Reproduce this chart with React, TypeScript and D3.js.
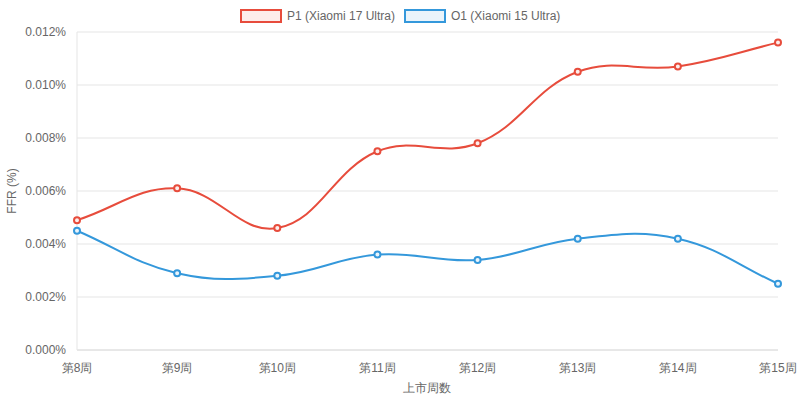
import React from "react";
import * as d3 from "d3";

const categories = ["第8周", "第9周", "第10周", "第11周", "第12周", "第13周", "第14周", "第15周"];
const p1Values = [0.0049, 0.0061, 0.0046, 0.0075, 0.0078, 0.0105, 0.0107, 0.0116];
const o1Values = [0.0045, 0.0029, 0.0028, 0.0036, 0.0034, 0.0042, 0.0042, 0.0025];
const yTicks = [0, 0.002, 0.004, 0.006, 0.008, 0.01, 0.012];
const seriesNames = ["P1 (Xiaomi 17 Ultra)", "O1 (Xiaomi 15 Ultra)"];
const seriesColors = ["#e74c3c", "#3498db"];
const seriesFills = ["rgba(231,76,60,0.1)", "rgba(52,152,219,0.1)"];
const pointFills = ["#fdeeec", "#eaf4fb"];

const W = 800, H = 401;
const left = 77, right = 778, top = 32, bottom = 350;
const FONT = "'Liberation Sans', Arial, Helvetica, sans-serif";

function splinePath(pts: [number, number][], t = 0.4): string {
  const p = d3.path();
  const ctrl = pts.map((cur, i) => {
    const prev = pts[i - 1] || cur;
    const next = pts[i + 1] || cur;
    const d01 = Math.hypot(cur[0] - prev[0], cur[1] - prev[1]);
    const d12 = Math.hypot(next[0] - cur[0], next[1] - cur[1]);
    let s01 = d01 / (d01 + d12);
    let s12 = d12 / (d01 + d12);
    s01 = isNaN(s01) ? 0 : s01;
    s12 = isNaN(s12) ? 0 : s12;
    const fa = t * s01, fb = t * s12;
    return {
      prev: [cur[0] - fa * (next[0] - prev[0]), cur[1] - fa * (next[1] - prev[1])],
      next: [cur[0] + fb * (next[0] - prev[0]), cur[1] + fb * (next[1] - prev[1])],
    };
  });
  pts.forEach((pt, i) => {
    if (i === 0) p.moveTo(pt[0], pt[1]);
    else {
      const a = ctrl[i - 1].next, b = ctrl[i].prev;
      p.bezierCurveTo(a[0], a[1], b[0], b[1], pt[0], pt[1]);
    }
  });
  return p.toString();
}

export default function App() {
  const x = d3.scalePoint<string>().domain(categories).range([left, right]);
  const y = d3.scaleLinear().domain([0, 0.012]).range([bottom, top]);
  const series = [p1Values, o1Values];

  return (
    <svg width={W} height={H} style={{ position: "absolute", left: 0, top: 0, fontFamily: FONT }}>
      <rect width={W} height={H} fill="#fff" />
      {yTicks.map((t) => (
        <line key={"g" + t} x1={left} x2={right} y1={y(t)} y2={y(t)} stroke={t === 0 ? "#d0d0d0" : "#e5e5e5"} strokeWidth={1} />
      ))}
      <line x1={left} x2={left} y1={top} y2={bottom} stroke="#e5e5e5" strokeWidth={1} />
      {yTicks.map((t) => (
        <text key={"yl" + t} x={66} y={y(t)} dy="0.35em" textAnchor="end" fontSize={12} fill="#666">
          {t.toFixed(3) + "%"}
        </text>
      ))}
      {categories.map((c) => (
        <text key={"xl" + c} x={x(c)} y={368} dy="0.35em" textAnchor="middle" fontSize={12} fill="#666">{c}</text>
      ))}
      <text x={427} y={388} dy="0.35em" textAnchor="middle" fontSize={12} fill="#666">上市周数</text>
      <text transform={`translate(12,${(top + bottom) / 2}) rotate(-90)`} dy="0.35em" textAnchor="middle" fontSize={12} fill="#666">FFR (%)</text>
      {series.map((vals, si) => {
        const pts = vals.map((v, i) => [x(categories[i])!, y(v)] as [number, number]);
        return (
          <g key={"s" + si}>
            <path d={splinePath(pts)} fill="none" stroke={seriesColors[si]} strokeWidth={2} />
            {pts.map((pt, i) => (
              <circle key={i} cx={pt[0]} cy={pt[1]} r={3} fill={pointFills[si]} stroke={seriesColors[si]} strokeWidth={2} />
            ))}
          </g>
        );
      })}
      {seriesNames.map((n, i) => {
        const bx = i === 0 ? 241 : 405;
        return (
          <g key={"lg" + i}>
            <rect x={bx} y={10} width={40} height={12} fill={seriesFills[i]} stroke={seriesColors[i]} strokeWidth={2} />
            <text x={bx + 46} y={16} dy="0.35em" fontSize={12} fill="#666">{n}</text>
          </g>
        );
      })}
    </svg>
  );
}
